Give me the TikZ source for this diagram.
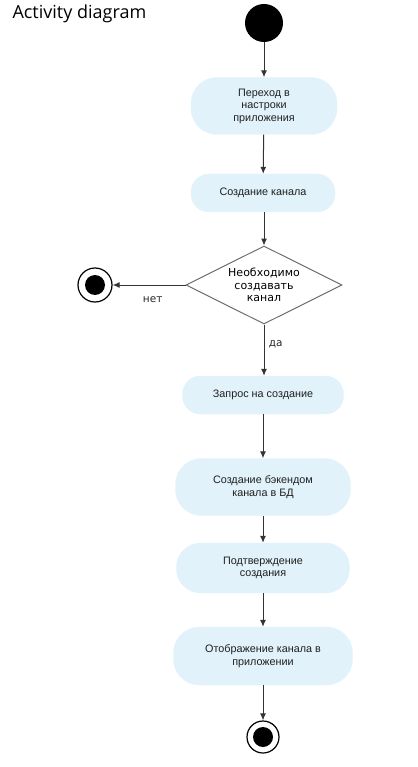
\documentclass[tikz,border=0pt]{standalone}
\usepackage{fontspec}
\setmainfont{Liberation Sans}
\newfontfamily\diafont{DejaVu Sans}
\newfontfamily\titlefont{Open Sans}
\usetikzlibrary{arrows.meta}
\usetikzlibrary{shapes.geometric}
\definecolor{actblue}{RGB}{225,242,250}
\definecolor{linegray}{RGB}{51,51,51}
\definecolor{diagray}{RGB}{110,110,110}

\begin{document}
\begin{tikzpicture}[x=1pt, y=-1pt,
  act/.style={fill=actblue, draw=actblue, align=center, text=black!88,
    font=\fontsize{10.8}{12.5}\selectfont, inner sep=0pt},
  flow/.style={-{Latex[length=7pt,width=6pt]}, line width=1pt, draw=linegray},
  guard/.style={font=\diafont\fontsize{10.5}{12}\selectfont, text=black!85}]
\useasboundingbox (0,0) rectangle (417,767);

\node[font=\titlefont\fontsize{18}{20}\selectfont, anchor=west] (title) at (9,14) {Activity diagram};

% start and end
\node[circle, fill=black, minimum size=38pt, inner sep=0pt] (start) at (264,23) {};

\node[act, minimum width=146pt, minimum height=57pt, rounded corners=26pt] (settings) at (264,106) {Переход в\\настроки\\приложения};
\node[act, minimum width=144pt, minimum height=38pt, rounded corners=18pt] (create) at (263,193) {Создание канала};

\node[diamond, shape aspect=2, draw=diagray, line width=1pt, minimum width=156pt, minimum height=78pt,
  inner sep=0pt, align=center, font=\diafont\fontsize{11}{12.5}\selectfont] (choice) at (264,285) {Необходимо\\создавать\\канал};

\node[circle, draw=black, line width=1.2pt, minimum size=34pt, inner sep=0pt] (stopno) at (95,285) {};
\fill (stopno.center) circle (10pt);

\node[act, minimum width=161pt, minimum height=38pt, rounded corners=18pt] (request) at (263,395) {Запрос на создание};
\node[act, minimum width=175pt, minimum height=57pt, rounded corners=26pt] (backend) at (263,487) {Создание бэкендом\\канала в БД};
\node[act, minimum width=173pt, minimum height=50pt, rounded corners=24pt] (confirm) at (263,568) {Подтверждение\\создания};
\node[act, minimum width=179pt, minimum height=58pt, rounded corners=26pt] (show) at (263,656) {Отображение канала в\\приложении};

\node[circle, draw=black, line width=1.2pt, minimum size=32pt, inner sep=0pt] (stop) at (263,737) {};
\fill (stop.center) circle (10pt);

\draw[flow] (start) -- (settings);
\draw[flow] (settings) -- (create);
\draw[flow] (create.south -| choice.north) -- (choice.north);
\draw[flow] (choice.west) -- (stopno) node[guard, pos=0.45, below=8pt] (no) {нет};
\draw[flow] (choice.south) -- (choice.south |- request.north) node[guard, pos=0.38, right=1pt] (yes) {да};
\draw[flow] (request) -- (backend);
\draw[flow] (backend) -- (confirm);
\draw[flow] (confirm) -- (show);
\draw[flow] (show) -- (stop);
\end{tikzpicture}
\end{document}
